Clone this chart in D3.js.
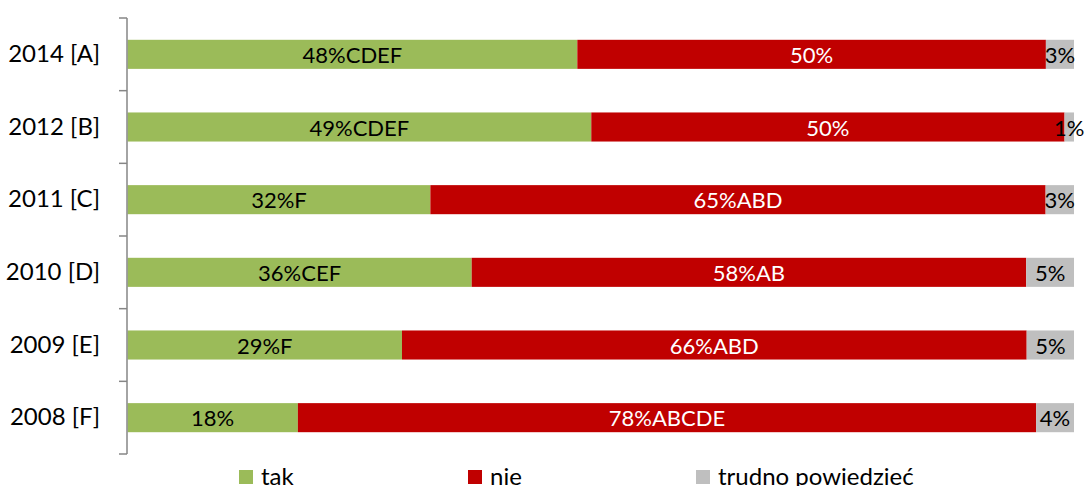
<!DOCTYPE html>
<html><head><meta charset="utf-8">
<script src="https://cdn.jsdelivr.net/npm/d3@7"></script>
<style>body{margin:0;background:#fff}svg{display:block}</style>
</head><body>
<script>
const categories = ["2014 [A]","2012 [B]","2011 [C]","2010 [D]","2009 [E]","2008 [F]"];
const seriesNames = ["tak","nie","trudno powiedzieć"];
const tak = [48,49,32,36,29,18];
const nie = [50,50,65,58,66,78];
const trudno = [3,1,3,5,5,4];
const takSig = ["CDEF","CDEF","F","CEF","F",""];
const nieSig = ["","","ABD","AB","ABD","ABCDE"];
const trudnoSig = ["","","","","",""];
const colors = ["#9BBB59","#C00000","#BFBFBF"];
const labelColors = ["#000","#fff","#000"];

const W=1087,H=486;
const svg=d3.select("body").append("svg").attr("width",W).attr("height",H);
const FONT="Lato, 'Open Sans', sans-serif";

const rows = categories.map((c,i)=>({cat:c, s0:tak[i], s1:nie[i], s2:trudno[i]}));
const sigs=[takSig,nieSig,trudnoSig];
const stack=d3.stack().keys(["s0","s1","s2"]).offset(d3.stackOffsetExpand)(rows);

const x=d3.scaleLinear().domain([0,1]).range([127.5,1074]);
const y=d3.scaleBand().domain(categories).range([18,454]).paddingInner(0.6).paddingOuter(0.3);

stack.forEach((layer,k)=>{
  const g=svg.append("g");
  g.selectAll("rect").data(layer).enter().append("rect")
    .attr("x",d=>x(d[0])).attr("width",d=>x(d[1])-x(d[0]))
    .attr("y",d=>y(d.data.cat)).attr("height",y.bandwidth())
    .attr("fill",colors[k]);
  const vals=[tak,nie,trudno][k];
  g.selectAll("text").data(layer).enter().append("text")
    .attr("x",d=>(x(d[0])+x(d[1]))/2)
    .attr("y",d=>y(d.data.cat)+y.bandwidth()/2)
    .attr("text-anchor","middle").attr("dominant-baseline","central")
    .attr("font-family",FONT).attr("font-size",22)
    .attr("fill",labelColors[k])
    .text((d,i)=>vals[i]+"%"+sigs[k][i]);
});

// axis
const ax=svg.append("g").attr("transform","translate(127,0)")
  .call(d3.axisLeft(y).tickSize(0).tickPadding(27));
ax.select(".domain").remove();
ax.selectAll("text").attr("font-family",FONT).attr("font-size",24).attr("fill","#000");
const step=y.step();
const bounds=d3.range(categories.length+1).map(i=>18+i*step);
svg.append("line").attr("x1",127).attr("x2",127).attr("y1",18).attr("y2",454)
  .attr("stroke","#868686").attr("stroke-width",1.5);
svg.selectAll(".tk").data(bounds).enter().append("line")
  .attr("x1",119).attr("x2",127).attr("y1",d=>d).attr("y2",d=>d)
  .attr("stroke","#868686").attr("stroke-width",1.5);

// legend
const legX=[239,468,696];
const lg=svg.append("g");
seriesNames.forEach((n,k)=>{
  lg.append("rect").attr("x",legX[k]).attr("y",470).attr("width",14).attr("height",14).attr("fill",colors[k]);
  lg.append("text").attr("x",legX[k]+22).attr("y",485).attr("font-family",FONT).attr("font-size",24).attr("fill","#000").text(n);
});
</script>
</body></html>
